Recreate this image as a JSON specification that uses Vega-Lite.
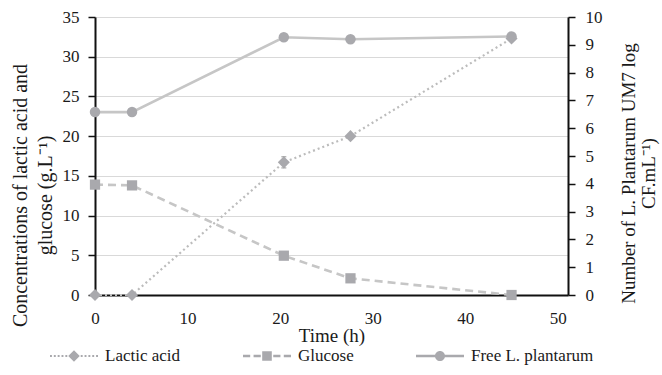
{
  "$schema": "https://vega.github.io/schema/vega-lite/v6.json",
  "width": 473,
  "height": 278,
  "autosize": {"type": "none"},
  "padding": {"left": 95, "top": 17, "right": 94, "bottom": 80},
  "background": "white",
  "config": {
    "font": "Liberation Serif, Times New Roman, serif",
    "view": {"stroke": null},
    "text": {"font": "Liberation Serif, Times New Roman, serif"},
    "axis": {
      "labelFont": "Liberation Serif, Times New Roman, serif",
      "titleFont": "Liberation Serif, Times New Roman, serif",
      "labelFontSize": 17,
      "titleFontSize": 19,
      "titleFontWeight": "normal",
      "labelColor": "#1a1a1a",
      "titleColor": "#1a1a1a",
      "labelFlush": false,
      "labelOverlap": false,
      "domainColor": "#111111",
      "domainWidth": 2,
      "tickColor": "#111111",
      "tickWidth": 1.5
    },
    "legend": {"labelFont": "Liberation Serif, Times New Roman, serif"},
    "style": {
      "guide-label": {"font": "Liberation Serif, Times New Roman, serif"},
      "guide-title": {"font": "Liberation Serif, Times New Roman, serif"}
    }
  },
  "data": {
    "values": [
      {"series": "Lactic acid", "time": 0, "value": 0, "err": 0},
      {"series": "Lactic acid", "time": 4, "value": 0, "err": 0},
      {"series": "Lactic acid", "time": 20.4, "value": 16.7, "err": 0.7},
      {"series": "Lactic acid", "time": 27.6, "value": 20.0, "err": 0},
      {"series": "Lactic acid", "time": 45, "value": 32.3, "err": 0},
      {"series": "Glucose", "time": 0, "value": 13.9, "err": 0},
      {"series": "Glucose", "time": 4, "value": 13.8, "err": 0},
      {"series": "Glucose", "time": 20.4, "value": 4.95, "err": 0},
      {"series": "Glucose", "time": 27.6, "value": 2.1, "err": 0},
      {"series": "Glucose", "time": 45, "value": 0, "err": 0},
      {"series": "Free L. plantarum", "time": 0, "value": 6.58, "err": 0},
      {"series": "Free L. plantarum", "time": 4, "value": 6.58, "err": 0},
      {"series": "Free L. plantarum", "time": 20.4, "value": 9.27, "err": 0},
      {"series": "Free L. plantarum", "time": 27.6, "value": 9.2, "err": 0},
      {"series": "Free L. plantarum", "time": 45, "value": 9.3, "err": 0}
    ]
  },
  "encoding": {
    "x": {
      "field": "time",
      "type": "quantitative",
      "scale": {"domain": [0, 51.1], "nice": false, "zero": false},
      "axis": {
        "values": [0, 10, 20, 30, 40, 50],
        "ticks": false,
        "grid": false,
        "labelFlush": false,
        "labelFont": "Liberation Serif, Times New Roman, serif",
        "labelPadding": 15,
        "title": "Time (h)",
        "titlePadding": 0
      }
    }
  },
  "layer": [
    {
      "encoding": {
        "y": {
          "field": "value",
          "type": "quantitative",
          "scale": {"domain": [0, 35], "nice": false},
          "axis": {
            "orient": "left",
            "values": [0, 5, 10, 15, 20, 25, 30, 35],
            "grid": true,
            "gridColor": "#d9d9d9",
            "gridWidth": 1.2,
            "tickSize": 7,
            "labelFlush": false,
            "labelFont": "Liberation Serif, Times New Roman, serif",
            "labelPadding": 9,
            "title": ["Concentrations of lactic acid and", "glucose  (g.L⁻¹)"],
            "titleFontSize": 20,
            "titleAngle": -90,
            "titleBaseline": "middle",
            "titleAlign": "center",
            "titleLineHeight": 25,
            "titleX": -75,
            "titleY": 178
          }
        }
      },
      "layer": [
        {
          "transform": [{"filter": "datum.series === 'Glucose'"}],
          "mark": {"type": "line", "color": "#c6c6c6", "strokeWidth": 2.6, "strokeDash": [8, 5]}
        },
        {
          "transform": [{"filter": "datum.series === 'Lactic acid'"}],
          "mark": {"type": "line", "color": "#bcbcbc", "strokeWidth": 2.2, "strokeDash": [2, 3]}
        },
        {
          "transform": [{"filter": "datum.series === 'Lactic acid' && datum.err > 0"}],
          "mark": {"type": "errorbar", "ticks": true, "color": "#6b6b6b"},
          "encoding": {"yError": {"field": "err"}}
        },
        {
          "transform": [{"filter": "datum.series === 'Glucose'"}],
          "mark": {"type": "point", "shape": "square", "filled": true, "size": 105, "color": "#a9a9ad", "opacity": 1}
        },
        {
          "transform": [{"filter": "datum.series === 'Lactic acid'"}],
          "mark": {"type": "point", "shape": "diamond", "filled": true, "size": 145, "color": "#a9a9ad", "opacity": 1}
        }
      ]
    },
    {
      "transform": [{"filter": "datum.series === 'Free L. plantarum'"}],
      "encoding": {
        "y": {
          "field": "value",
          "type": "quantitative",
          "scale": {"domain": [0, 10], "nice": false},
          "axis": {
            "orient": "right",
            "values": [0, 1, 2, 3, 4, 5, 6, 7, 8, 9, 10],
            "grid": false,
            "tickSize": 7,
            "labelFlush": false,
            "labelFont": "Liberation Serif, Times New Roman, serif",
            "labelPadding": 10,
            "title": ["Number of L. Plantarum  UM7 log", "CF.mL⁻¹)"],
            "titleAngle": -90,
            "titleBaseline": "middle",
            "titleAlign": "center",
            "titleLineHeight": 20,
            "titleX": 60,
            "titleY": 156
          }
        }
      },
      "layer": [
        {
          "mark": {"type": "line", "color": "#c6c6c6", "strokeWidth": 2.6}
        },
        {
          "mark": {"type": "point", "shape": "circle", "filled": true, "size": 110, "color": "#a9a9ad", "opacity": 1}
        }
      ]
    },
    {
      "mark": {"type": "point", "filled": true, "opacity": 0, "color": "#a9a9ad"},
      "encoding": {
        "shape": {
          "field": "series",
          "type": "nominal",
          "scale": {
            "domain": ["Lactic acid", "Glucose", "Free L. plantarum"],
            "range": [
              "M-1,-0.04H-0.92V0.04H-1Z M-0.84,-0.04H-0.76V0.04H-0.84Z M-0.68,-0.04H-0.6V0.04H-0.68Z M-0.52,-0.04H-0.44V0.04H-0.52Z M-0.36,-0.04H-0.28V0.04H-0.36Z M0.28,-0.04H0.36V0.04H0.28Z M0.44,-0.04H0.52V0.04H0.44Z M0.6,-0.04H0.68V0.04H0.6Z M0.76,-0.04H0.84V0.04H0.76Z M0.92,-0.04H1V0.04H0.92Z M0,-0.24L0.24,0L0,0.24L-0.24,0Z",
              "M-1,-0.05H-0.7V0.05H-1Z M-0.56,-0.05H-0.26V0.05H-0.56Z M0.26,-0.05H0.56V0.05H0.26Z M0.7,-0.05H1V0.05H0.7Z M-0.2,-0.2H0.2V0.2H-0.2Z",
              "M-1,-0.05H-0.2V0.05H-1Z M0.2,-0.05H1V0.05H0.2Z M-0.21,0A0.21,0.21,0,1,1,0.21,0A0.21,0.21,0,1,1,-0.21,0Z"
            ]
          },
          "legend": {
            "orient": "none",
            "legendX": -45,
            "legendY": 315,
            "direction": "horizontal",
            "title": null,
            "padding": 0,
            "symbolSize": 2304,
            "symbolStrokeWidth": 0,
            "symbolFillColor": "#a9a9ad",
            "symbolOpacity": 1,
            "labelFont": "Liberation Serif, Times New Roman, serif",
            "labelFontSize": 17,
            "labelColor": "#1a1a1a",
            "labelOffset": 7,
            "columnPadding": 62,
            "encode": {
              "symbols": {
                "update": {
                  "opacity": {"value": 1},
                  "fill": {"value": "#a9a9ad"},
                  "strokeWidth": {"value": 0}
                }
              }
            }
          }
        }
      }
    }
  ],
  "resolve": {"scale": {"y": "independent"}}
}
